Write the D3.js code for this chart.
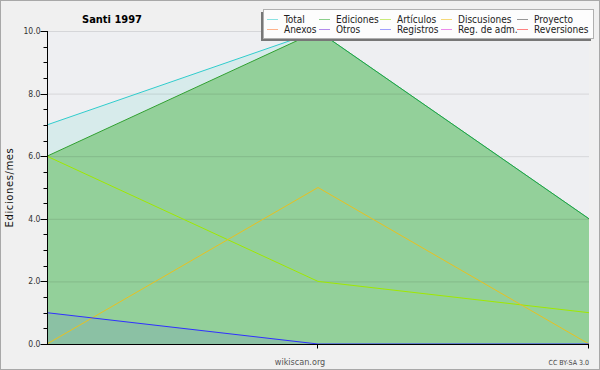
<!DOCTYPE html>
<html>
<head>
<meta charset="utf-8">
<script src="https://cdn.jsdelivr.net/npm/d3@7"></script>
<style>
  body { margin: 0; background: #f0f0f0; }
  svg { display: block; font-family: "DejaVu Sans Condensed", "DejaVu Sans", sans-serif; }
</style>
</head>
<body>
<svg id="chart"></svg>
<script>
// periodos (3 puntos) y series
const periods = ["p1", "p2", "p3"]
const total = [7, 10, 4]
const ediciones = [6, 10, 4]
const articulos = [6, 2, 1]
const discusiones = [0, 5, 0]
const registros = [1, 0, 0]
const yTicks = [0, 2, 4, 6, 8, 10]

const legendItems = [
    ["Total", "#40d0d0"], ["Ediciones", "#40b040"], ["Artículos", "#a8e020"], ["Discusiones", "#f0c020"], ["Proyecto", "#555555"],
    ["Anexos", "#ff8040"], ["Otros", "#8040e0"], ["Registros", "#6060ff"], ["Reg. de adm.", "#e040e0"], ["Reversiones", "#ff3030"]
]

const W = 600, H = 370
const margin = {left: 47, right: 11, top: 31, bottom: 26}

const svg = d3.select("#chart").attr("width", W).attr("height", H)

svg.append("rect").attr("x", 0.5).attr("y", 0.5).attr("width", W - 1).attr("height", H - 1)
    .attr("fill", "#f0f0f0").attr("stroke", "#a8a8a8")

const x = d3.scalePoint().domain(periods).range([margin.left, W - margin.right])
const y = d3.scaleLinear().domain([0, 10]).range([H - margin.bottom, margin.top])

// fondo del area
svg.append("rect").attr("x", margin.left).attr("y", margin.top)
    .attr("width", W - margin.left - margin.right).attr("height", H - margin.top - margin.bottom)
    .attr("fill", "#eeeff2")

const area = d3.area().x((d, i) => x(periods[i])).y0(y(0)).y1(d => y(d))
const line = d3.line().x((d, i) => x(periods[i])).y(d => y(d))

svg.append("path").datum(total).attr("d", area).attr("fill", "#40d0c0").attr("fill-opacity", 0.13)
svg.append("path").datum(ediciones).attr("d", area).attr("fill", "#40b038").attr("fill-opacity", 0.45)
svg.append("path").datum(registros).attr("d", area).attr("fill", "#4040ff").attr("fill-opacity", 0.1)

// rejilla
svg.append("g").selectAll("line").data(yTicks.slice(1)).join("line")
    .attr("x1", margin.left).attr("x2", W - margin.right)
    .attr("y1", d => y(d) + 0.5).attr("y2", d => y(d) + 0.5)
    .attr("stroke", "#000").attr("stroke-opacity", 0.1)

const series = [
    [total, "#30cccc"], [ediciones, "#30a030"], [articulos, "#a0e800"],
    [discusiones, "#e8c020"], [registros, "#3030ff"]
]
series.forEach(([d, c]) => {
    svg.append("path").datum(d).attr("d", line).attr("fill", "none").attr("stroke", c).attr("stroke-width", 1)
})

// eje y
const yAxis = svg.append("g").attr("transform", `translate(${margin.left + 0.5},0)`)
yAxis.append("line").attr("y1", y(10)).attr("y2", y(0) + 0.5).attr("stroke", "#000")
yAxis.selectAll(".minor").data(d3.range(0, 10.01, 0.5)).join("line")
    .attr("x1", d => (d % 2 === 0) ? -7 : -4).attr("x2", 0)
    .attr("y1", d => Math.round(y(d)) + 0.5).attr("y2", d => Math.round(y(d)) + 0.5)
    .attr("stroke", "#000")
yAxis.selectAll("text").data(yTicks).join("text")
    .attr("x", -7).attr("y", d => y(d) + 3)
    .attr("text-anchor", "end").attr("font-size", 8.5).attr("fill", "#333")
    .text(d => d.toFixed(1))

// eje x
const xAxis = svg.append("g").attr("transform", `translate(0,${y(0) + 0.5})`)
xAxis.append("line").attr("x1", margin.left).attr("x2", W - margin.right).attr("stroke", "#000")
xAxis.selectAll("line.t").data(periods.slice(1)).join("line")
    .attr("x1", d => x(d) - 0.5).attr("x2", d => x(d) - 0.5).attr("y1", 0).attr("y2", 4)
    .attr("stroke", "#000")

svg.append("text").attr("x", 112).attr("y", 23).attr("text-anchor", "middle")
    .attr("font-size", 11).attr("font-weight", "bold").text("Santi 1997")

svg.append("text").attr("transform", `translate(13,${(y(0) + y(10)) / 2}) rotate(-90)`)
    .attr("text-anchor", "middle").attr("font-size", 10).attr("fill", "#111")
    .style("font-family", "'DejaVu Sans', sans-serif").attr("letter-spacing", 0.6).text("Ediciones/mes")

svg.append("text").attr("x", 300).attr("y", 365).attr("text-anchor", "middle")
    .attr("font-size", 9).attr("fill", "#555").text("wikiscan.org")
svg.append("text").attr("x", 589).attr("y", 365).attr("text-anchor", "end")
    .attr("font-size", 7).attr("fill", "#444").text("CC BY-SA 3.0")

// leyenda
const lg = svg.append("g")
lg.append("rect").attr("x", 261).attr("y", 12).attr("width", 330).attr("height", 29).attr("fill", "#777")
lg.append("rect").attr("x", 263.5).attr("y", 9.5).attr("width", 330).attr("height", 29)
    .attr("fill", "#fdfdfd").attr("stroke", "#b0b0b0")
const colX = [267, 319, 380, 441, 517]
legendItems.forEach(([name, c], i) => {
    const cx = colX[i % 5], cy = i < 5 ? 19 : 29
    lg.append("line").attr("x1", cx).attr("x2", cx + 11).attr("y1", cy + 0.5).attr("y2", cy + 0.5)
        .attr("stroke", c).attr("stroke-opacity", 0.6)
    lg.append("text").attr("x", cx + 17).attr("y", cy + 4).attr("font-size", 10).attr("fill", "#222").text(name)
})
</script>
</body>
</html>
